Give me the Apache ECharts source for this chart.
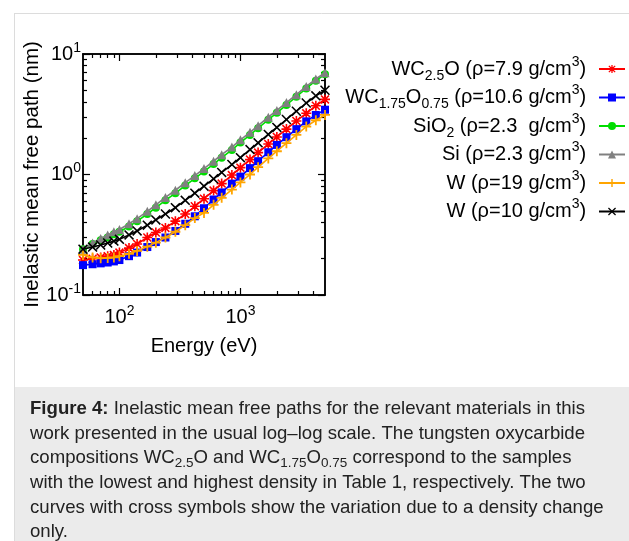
<!DOCTYPE html>
<html>
<head>
<meta charset="utf-8">
<script src="https://cdn.jsdelivr.net/npm/echarts@6/dist/echarts.min.js"></script>
<style>
html,body{margin:0;padding:0;background:#fff;}
#chart{width:629px;height:541px;}
</style>
</head>
<body>
<div id="chart"></div>
<script>
// ---------------- data ----------------
const energy = [50, 60, 70, 80, 90, 100, 120, 140, 170, 200, 240, 290, 350, 420, 500, 600, 700, 850, 1000, 1200, 1400, 1700, 2000, 2400, 2900, 3500, 4200, 5000];

const wc25o   = [0.195, 0.20, 0.205, 0.21, 0.215, 0.225, 0.245, 0.265, 0.30, 0.33, 0.36, 0.41, 0.47, 0.545, 0.63, 0.735, 0.84, 0.99, 1.14, 1.33, 1.52, 1.79, 2.05, 2.38, 2.78, 3.22, 3.72, 4.2];
const wc175   = [0.177, 0.18, 0.183, 0.186, 0.19, 0.195, 0.21, 0.225, 0.25, 0.275, 0.30, 0.34, 0.39, 0.45, 0.525, 0.62, 0.71, 0.84, 0.96, 1.13, 1.29, 1.53, 1.76, 2.04, 2.38, 2.76, 3.12, 3.45];
const sio2    = [0.24, 0.265, 0.285, 0.30, 0.32, 0.335, 0.37, 0.41, 0.47, 0.53, 0.61, 0.70, 0.81, 0.93, 1.06, 1.22, 1.38, 1.60, 1.84, 2.13, 2.42, 2.85, 3.25, 3.78, 4.42, 5.18, 6.0, 6.8];
const si      = [0.24, 0.27, 0.295, 0.315, 0.335, 0.35, 0.39, 0.43, 0.495, 0.56, 0.645, 0.74, 0.855, 0.98, 1.12, 1.29, 1.46, 1.69, 1.94, 2.24, 2.54, 2.99, 3.40, 3.95, 4.60, 5.38, 6.2, 7.0];
const w19     = [0.215, 0.205, 0.202, 0.203, 0.205, 0.21, 0.22, 0.232, 0.252, 0.272, 0.30, 0.335, 0.38, 0.435, 0.48, 0.56, 0.64, 0.75, 0.86, 1.0, 1.15, 1.36, 1.56, 1.82, 2.13, 2.5, 2.82, 3.12];
const w10     = [0.24, 0.25, 0.26, 0.27, 0.28, 0.29, 0.315, 0.34, 0.38, 0.42, 0.47, 0.53, 0.61, 0.70, 0.80, 0.92, 1.04, 1.21, 1.38, 1.61, 1.83, 2.15, 2.46, 2.86, 3.35, 3.92, 4.5, 5.0];

const seriesNames = ['WC2.5O', 'WC1.75O0.75', 'SiO2', 'Si', 'W19', 'W10'];
const legendLabels = [
  '{n|WC}{sub|2.5}{n|O (ρ=7.9 g/cm}{sup|3}{n|)}{sub|  }',
  '{n|WC}{sub|1.75}{n|O}{sub|0.75}{n| (ρ=10.6 g/cm}{sup|3}{n|)}{sub|  }',
  '{n|SiO}{sub|2}{n| (ρ=2.3  g/cm}{sup|3}{n|)}{sub|  }',
  '{n|Si (ρ=2.3 g/cm}{sup|3}{n|)}{sub|  }',
  '{n|W (ρ=19 g/cm}{sup|3}{n|)}{sub|  }',
  '{n|W (ρ=10 g/cm}{sup|3}{n|)}{sub|  }'
];

const xMajor = [100, 1000];
const xMinor = [60, 70, 80, 90, 200, 300, 400, 500, 600, 700, 800, 900, 2000, 3000, 4000];
const yMajor = [0.1, 1, 10];
const yMinor = [0.2, 0.3, 0.4, 0.5, 0.6, 0.7, 0.8, 0.9, 2, 3, 4, 5, 6, 7, 8, 9];

const xTitle = 'Energy (eV)';
const yTitle = 'Inelastic mean free path (nm)';

const captionLines = [
  '{b|Figure 4:}{t| Inelastic mean free paths for the relevant materials in this}',
  '{t|work presented in the usual log–log scale. The tungsten oxycarbide}',
  '{t|compositions WC}{s|2.5}{t|O and WC}{s|1.75}{t|O}{s|0.75}{t| correspond to the samples}',
  '{t|with the lowest and highest density in Table 1, respectively. The two}',
  '{t|curves with cross symbols show the variation due to a density change}',
  '{t|only.}'
];

// ---------------- styles ----------------
const FONT = '"Liberation Sans", Arial, Helvetica, sans-serif';
const colors = ['#ff0000', '#0000ff', '#00dd00', '#808080', '#ffa500', '#000000'];
const PLUS = 'path://M4.1,0H5.9V4.1H10V5.9H5.9V10H4.1V5.9H0V4.1H4.1Z';
const CROSS = 'path://M0,1.1L1.1,0L5,3.9L8.9,0L10,1.1L6.1,5L10,8.9L8.9,10L5,6.1L1.1,10L0,8.9L3.9,5Z';
const STAR = 'path://M4.2,0H5.8V4.2H10V5.8H5.8V10H4.2V5.8H0V4.2H4.2Z M0.5,1.6L1.6,0.5L5,3.9L8.4,0.5L9.5,1.6L6.1,5L9.5,8.4L8.4,9.5L5,6.1L1.6,9.5L0.5,8.4L3.9,5Z';
const symbols = [STAR, 'rect', 'circle', 'triangle', PLUS, CROSS];
const symSizes = [10, 8, 8, 9, 10, 10];
const allData = [wc25o, wc175, sio2, si, w19, w10];

function powLabel(v) {
  const e = Math.round(Math.log10(v));
  return '{b|10}{s|' + e + '}';
}
const tickRich = {
  b: { fontSize: 20, fontFamily: FONT, color: '#000', lineHeight: 26 },
  s: { fontSize: 14, fontFamily: FONT, color: '#000', verticalAlign: 'top' }
};
const lineSt = { color: '#000', width: 1.5 };

function xAx(position, ticks, len, label) {
  return {
    type: 'log', logBase: 10, min: 50, max: 5000, position: position,
    axisLine: { show: true, onZero: false, lineStyle: lineSt },
    axisTick: { show: true, inside: true, length: len, customValues: ticks, lineStyle: { color: '#000', width: 1.2 } },
    axisLabel: label ? { show: true, customValues: xMajor, formatter: powLabel, rich: tickRich, margin: 9 } : { show: false },
    splitLine: { show: false }, minorTick: { show: false },
    name: label ? xTitle : '', nameLocation: 'middle', nameGap: 41,
    nameTextStyle: { fontSize: 20, fontFamily: FONT, color: '#000' }
  };
}
function yAx(position, ticks, len, label) {
  return {
    type: 'log', logBase: 10, min: 0.1, max: 10, position: position,
    axisLine: { show: true, onZero: false, lineStyle: lineSt },
    axisTick: { show: true, inside: true, length: len, customValues: ticks, lineStyle: { color: '#000', width: 1.2 } },
    axisLabel: label ? { show: true, customValues: yMajor, formatter: powLabel, rich: tickRich, margin: 2 } : { show: false },
    splitLine: { show: false }, minorTick: { show: false },
    name: label ? yTitle : '', nameLocation: 'middle', nameGap: 40, nameRotate: 90,
    nameTextStyle: { fontSize: 20.5, fontFamily: FONT, color: '#000' }
  };
}

const series = seriesNames.map((nm, i) => ({
  name: nm,
  type: 'line',
  xAxisIndex: 0, yAxisIndex: 0,
  data: energy.map((e, k) => [e, allData[i][k]]),
  symbol: symbols[i],
  symbolSize: symSizes[i],
  showAllSymbol: true,
  animation: false,
  lineStyle: { color: colors[i], width: 1.6 },
  itemStyle: { color: colors[i], borderWidth: 0 },
  emphasis: { disabled: true },
  z: 2 + i
}));

const graphics = [
  { type: 'line', shape: { x1: 14, y1: 13.5, x2: 629, y2: 13.5 }, style: { stroke: '#dcdcdc', lineWidth: 1 }, silent: true },
  { type: 'line', shape: { x1: 14.5, y1: 13, x2: 14.5, y2: 541 }, style: { stroke: '#dcdcdc', lineWidth: 1 }, silent: true },
  { type: 'rect', shape: { x: 15, y: 387, width: 614, height: 154 }, style: { fill: '#ebebeb' }, silent: true }
];
captionLines.forEach((txt, i) => {
  graphics.push({
    type: 'text', x: 30, y: 409 + i * 24.6, silent: true,
    style: {
      text: txt, verticalAlign: 'middle', align: 'left',
      rich: {
        b: { fontSize: 18.6, fontWeight: 'bold', fontFamily: FONT, fill: '#222', lineHeight: 24 },
        t: { fontSize: 18.6, fontFamily: FONT, fill: '#222', lineHeight: 24 },
        s: { fontSize: 13.5, fontFamily: FONT, fill: '#222', verticalAlign: 'bottom' }
      }
    }
  });
});

const chart = echarts.init(document.getElementById('chart'), null, { renderer: 'canvas' });
chart.setOption({
  animation: false,
  backgroundColor: '#fff',
  grid: { left: 83, top: 54, width: 242, height: 241, containLabel: false, outerBoundsMode: 'none' },
  xAxis: [
    xAx('bottom', xMajor, 7, true),
    xAx('bottom', xMinor, 4, false),
    xAx('top', xMajor, 7, false),
    xAx('top', xMinor, 4, false)
  ],
  yAxis: [
    yAx('left', yMajor, 7, true),
    yAx('left', yMinor, 4, false),
    yAx('right', yMajor, 7, false),
    yAx('right', yMinor, 4, false)
  ],
  legend: {
    orient: 'vertical', right: 3, top: 55, align: 'right', padding: 0,
    itemWidth: 26, itemHeight: 10, itemGap: 0.5,
    data: seriesNames,
    formatter: function (name) { return legendLabels[seriesNames.indexOf(name)]; },
    textStyle: {
      fontSize: 20, fontFamily: FONT, color: '#000',
      rich: {
        n: { fontSize: 20, fontFamily: FONT, color: '#000', lineHeight: 28 },
        sub: { fontSize: 14, fontFamily: FONT, color: '#000', verticalAlign: 'bottom' },
        sup: { fontSize: 14, fontFamily: FONT, color: '#000', verticalAlign: 'top' }
      }
    },
    selectedMode: false
  },
  graphic: graphics,
  series: series
});
</script>
</body>
</html>
